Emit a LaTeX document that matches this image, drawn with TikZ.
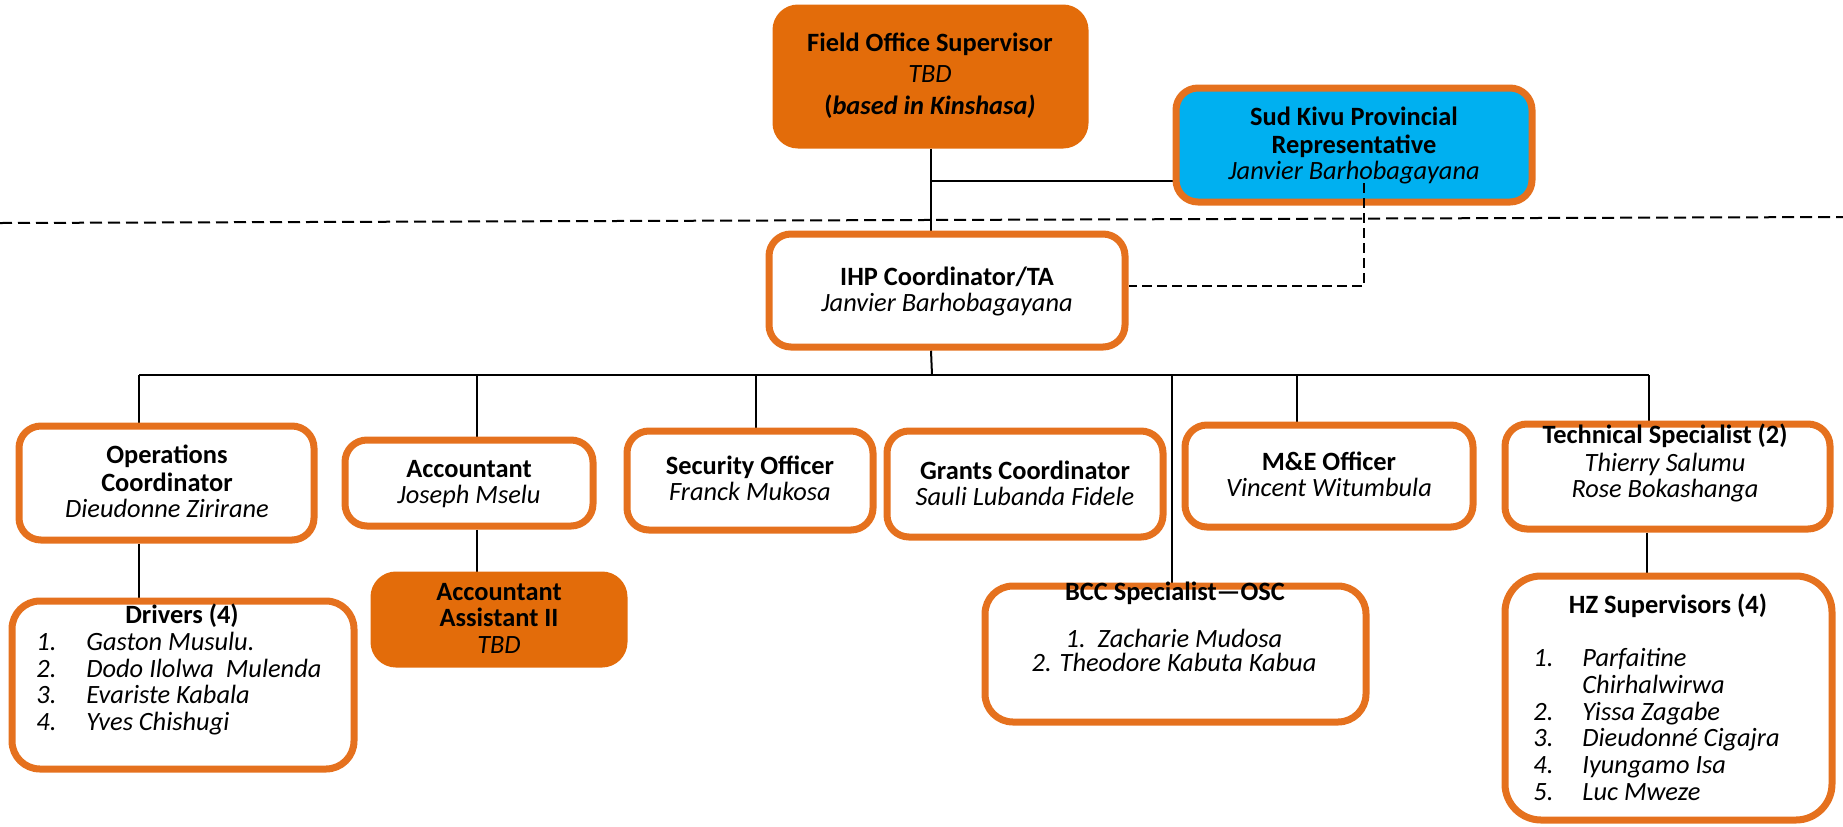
\documentclass[tikz,border=0pt]{standalone}
\usepackage{fontspec}
\setmainfont{Carlito}
\usetikzlibrary{fit,backgrounds}
\definecolor{orgfill}{HTML}{E36C0A}
\definecolor{orgline}{HTML}{E5711E}
\definecolor{skyfill}{HTML}{00B0F0}
\tikzset{
  box/.style={draw=orgline, line width=3.5pt, rounded corners=11pt, fill=white, inner sep=0pt},
  solidbox/.style={box, fill=orgfill, draw=orgfill},
  bluebox/.style={box, fill=skyfill},
  txt/.style={inner sep=0pt, anchor=base, font=\fontsize{13.2}{14}\selectfont},
  ltxt/.style={txt, anchor=base west},
  conn/.style={draw=black, line width=1pt},
  dconn/.style={draw=black, line width=1pt, dash pattern=on 5pt off 2.5pt},
}
\begin{document}
\begin{tikzpicture}[x=0.5pt, y=-0.5pt]
\useasboundingbox (0,0) rectangle (1843,826);

% ---------- boxes ----------
\node[solidbox, fit={(776,8) (1085,145)}] (fos) {};
\node[bluebox,  fit={(1176,88) (1532,202)}] (sk) {};
\node[box,      fit={(769,234) (1125,347)}] (ihp) {};

\node[box, fit={(19,426) (314,540)}] (ops) {};
\node[box, fit={(345,440) (593,526)}] (acc) {};
\node[box, fit={(627,431) (873,530)}] (sec) {};
\node[box, fit={(887,431) (1163,537)}] (grants) {};
\node[box, fit={(1185,425) (1473,527)}] (me) {};
\node[box, fit={(1505,424) (1830,529)}] (tech) {};

\node[box, rounded corners=14pt, fit={(12,601) (354,769)}] (drivers) {};
\node[solidbox, fit={(374,575) (624,664)}] (aa) {};
\node[box, rounded corners=14pt, fit={(985,586) (1366,722)}] (bcc) {};
\node[box, rounded corners=18pt, fit={(1505,576) (1832,820)}] (hz) {};

% ---------- solid and dashed links ----------
\coordinate (j1) at (931,181);
\coordinate (bus) at (932,375);
\coordinate (busL) at (139,375);
\coordinate (busR) at (1649,375);
\coordinate (dacc) at (477,375);
\coordinate (dsec) at (756,375);
\coordinate (dbcc) at (1172,375);
\coordinate (dme) at (1297,375);
\coordinate (dtech) at (1647,375);
\coordinate (dl) at (0,223);
\coordinate (dr) at (1843,217);
\coordinate (skd) at (1364,183);
\coordinate (skc) at (1364,286);

\begin{pgfonlayer}{background}
  \draw[conn] (fos.south -| j1) -- (j1 |- ihp.north);
  \draw[conn] (j1) -- (j1 -| sk.west);
  \draw[conn] (j1 |- ihp.south) -- (bus);
  \draw[conn, line width=1.3pt] (busL) -- (busR);
  \draw[conn] (busL) -- (busL |- ops.north);
  \draw[conn] (dacc) -- (dacc |- acc.north);
  \draw[conn] (dsec) -- (dsec |- sec.north);
  \draw[conn] (dbcc) -- (dbcc |- bcc.north);
  \draw[conn] (dme) -- (dme |- me.north);
  \draw[conn] (busR) -- (busR |- tech.north);
  \draw[conn] (busL |- ops.south) -- (busL |- drivers.north);
  \draw[conn] (dacc |- acc.south) -- (dacc |- aa.north);
  \draw[conn] (dtech |- tech.south) -- (dtech |- hz.north);
  \draw[dconn, dash pattern=on 6pt off 3pt] (dl) -- (dr);
\end{pgfonlayer}
\draw[dconn] (skd) -- (skc) -- (skc -| ihp.east);

% ---------- texts ----------
\node[txt] (fos1) at (930,51) {\textbf{Field Office Supervisor}};
\node[txt] (fos2) at (930,82) {\textit{TBD}};
\node[txt] (fos3) at (930,114) {\textbf{(\textit{based in Kinshasa)}}};

\node[txt] (sk1) at (1354,125) {\textbf{Sud Kivu Provincial}};
\node[txt] (sk2) at (1354,153) {\textbf{Representative}};
\node[txt] (sk3) at (1354,179) {\textit{Janvier Barhobagayana}};

\node[txt] (ihp1) at (947,285) {\textbf{IHP Coordinator/TA}};
\node[txt] (ihp2) at (947,311) {\textit{Janvier Barhobagayana}};

\node[txt] (ops1) at (167,463) {\textbf{Operations}};
\node[txt] (ops2) at (167,491) {\textbf{Coordinator}};
\node[txt] (ops3) at (167,517) {\textit{Dieudonne Zirirane}};

\node[txt] (acc1) at (469,477) {\textbf{Accountant}};
\node[txt] (acc2) at (469,503) {\textit{Joseph Mselu}};

\node[txt] (sec1) at (750,474) {\textbf{Security Officer}};
\node[txt] (sec2) at (750,500) {\textit{Franck Mukosa}};

\node[txt] (gr1) at (1025,479) {\textbf{Grants Coordinator}};
\node[txt] (gr2) at (1025,505) {\textit{Sauli Lubanda Fidele}};

\node[txt] (me1) at (1329,470) {\textbf{M\&E Officer}};
\node[txt] (me2) at (1329,496) {\textit{Vincent Witumbula}};

\node[txt] (te1) at (1665,443) {\textbf{Technical Specialist (2)}};
\node[txt] (te2) at (1665,471) {\textit{Thierry Salumu}};
\node[txt] (te3) at (1665,497) {\textit{Rose Bokashanga}};

\node[txt] (dr0) at (182,623) {\textbf{Drivers (4)}};
\node[ltxt] (drn1) at (36,650) {\textit{1.}};
\node[ltxt] (drn2) at (36,677) {\textit{2.}};
\node[ltxt] (drn3) at (36,703) {\textit{3.}};
\node[ltxt] (drn4) at (36,730) {\textit{4.}};
\node[ltxt] (drt1) at (86,650) {\textit{Gaston Musulu.}};
\node[ltxt] (drt2) at (86,677) {\textit{Dodo Ilolwa\ \ Mulenda}};
\node[ltxt] (drt3) at (86,703) {\textit{Evariste Kabala}};
\node[ltxt] (drt4) at (86,730) {\textit{Yves Chishugi}};

\node[txt] (aa1) at (499,600) {\textbf{Accountant}};
\node[txt] (aa2) at (499,626) {\textbf{Assistant II}};
\node[txt] (aa3) at (499,653) {\textit{TBD}};

\node[txt] (bcc0) at (1175,600) {\textbf{BCC Specialist—OSC}};
\node[txt] (bcc1) at (1174,647) {\textit{1.\ \ Zacharie Mudosa}};
\node[txt] (bcc2) at (1174,671) {\textit{2. Theodore Kabuta Kabua}};

\node[txt] (hz0) at (1668,613) {\textbf{HZ Supervisors (4)}};
\node[ltxt] (hzn1) at (1533,666) {\textit{1.}};
\node[ltxt] (hzn2) at (1533,720) {\textit{2.}};
\node[ltxt] (hzn3) at (1533,746) {\textit{3.}};
\node[ltxt] (hzn4) at (1533,773) {\textit{4.}};
\node[ltxt] (hzn5) at (1533,800) {\textit{5.}};
\node[ltxt] (hzt1) at (1582,666) {\textit{Parfaitine}};
\node[ltxt] (hzt1b) at (1582,693) {\textit{Chirhalwirwa}};
\node[ltxt] (hzt2) at (1582,720) {\textit{Yissa Zagabe}};
\node[ltxt] (hzt3) at (1582,746) {\textit{Dieudonné Cigajra}};
\node[ltxt] (hzt4) at (1582,773) {\textit{Iyungamo Isa}};
\node[ltxt] (hzt5) at (1582,800) {\textit{Luc Mweze}};
\end{tikzpicture}
\end{document}
